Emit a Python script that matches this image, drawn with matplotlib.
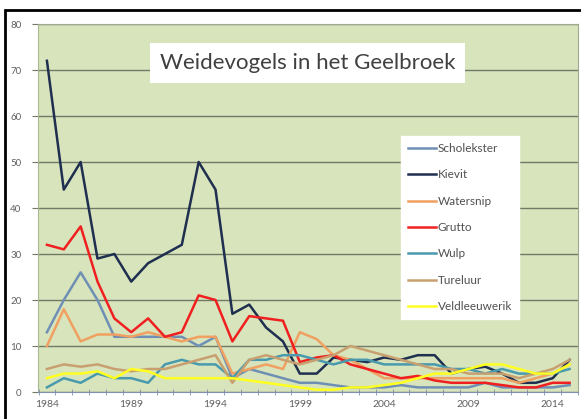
import matplotlib.pyplot as plt
import matplotlib.patches as patches
import numpy as np

plt.rcParams['font.family'] = ['Lato', 'DejaVu Sans']

years = list(range(1984, 2016))

scholekster = [13, 20, 26, 20, 12, 12, 12, 12, 12, 10, 12, 3, 5, 4, 3, 2,
               2, 1.5, 1, 1, 1, 1.5, 1, 1, 1, 1, 2, 1, 1, 1, 1, 1.5]
kievit = [72, 44, 50, 29, 30, 24, 28, 30, 32, 50, 44, 17, 19, 14, 11, 4,
          4, 7.5, 7, 6.5, 7.5, 7, 8, 8, 4, 5, 5.5, 4, 2, 2, 3, 7]
watersnip = [10, 18, 11, 12.5, 12.5, 12, 13, 12, 11, 12, 12, 4, 5, 6, 5, 13,
             11.5, 8, 7, 5, 3, 3, 3, 3, 3, 3, 3, 3, 2, 3, 4, 6]
grutto = [32, 31, 36, 24, 16, 13, 16, 12, 13, 21, 20, 11, 16.5, 16, 15.5, 6.5,
          7.5, 8, 6, 5, 4, 3, 3.5, 2.5, 2, 2, 2, 1.5, 1, 1, 2, 2]
wulp = [1, 3, 2, 4, 3, 3, 2, 6, 7, 6, 6, 3, 7, 7, 8, 8,
        7, 6, 7, 7, 6, 6, 6, 6, 5, 5, 4, 5, 4, 4, 4, 5]
tureluur = [5, 6, 5.5, 6, 5, 4.5, 5, 5, 6, 7, 8, 2, 7, 8, 7, 6,
            7, 8, 10, 9, 8, 7, 6, 5, 5, 4, 4, 4, 3, 4, 5, 7]
veldleeuwerik = [3, 4, 4, 4.5, 3, 5, 4.5, 3, 3, 3, 3, 3, 2.5, 2, 1.5, 1,
                 0.5, 0.5, 1, 1, 1.5, 2, 3, 4, 4, 5, 6, 6, 5, 4, 4, 6]

series = [
    ('Scholekster', scholekster, '#6f8fb4'),
    ('Kievit', kievit, '#1f2f4f'),
    ('Watersnip', watersnip, '#f0a060'),
    ('Grutto', grutto, '#f02020'),
    ('Wulp', wulp, '#4a9aae'),
    ('Tureluur', tureluur, '#c8a070'),
    ('Veldleeuwerik', veldleeuwerik, '#ffff20'),
]

fig = plt.figure(figsize=(5.81, 4.19), dpi=100)
fig.patch.set_facecolor('white')

# black frame around the whole chart
fig.add_artist(patches.Rectangle((5 / 581, -0.05), 1.0, (419 - 10) / 419 + 0.05,
                                 transform=fig.transFigure, fill=False,
                                 edgecolor='black', linewidth=2))

ax = fig.add_axes([38 / 581, 27 / 419, 540 / 581, 368 / 419])
ax.set_facecolor('#d8e4bc')

for name, values, color in series:
    ax.plot(years, values, color=color, linewidth=1.8, label=name)

ax.set_xlim(1983.47, 2015.4)
ax.set_ylim(0, 80)
ax.set_yticks(np.arange(0, 81, 10))
ax.set_xticks(range(1984, 2016, 5))
ax.set_xticks(np.arange(1983.5, 2015.6, 1), minor=True)
ax.grid(axis='y', color='#707a66', linewidth=1.0)
ax.set_axisbelow(True)

ax.tick_params(axis='y', length=4, color='#707a66', labelsize=7,
               labelcolor='#606060', pad=8)
ax.tick_params(axis='x', which='major', length=0, labelsize=7.5,
               labelcolor='#606060', pad=6)
ax.tick_params(axis='x', which='minor', length=4, direction='inout',
               color='#8090b0')

for side in ['top', 'right']:
    ax.spines[side].set_color('#a0a890')
ax.spines['left'].set_color('#a8b890')
ax.spines['bottom'].set_color('#8090b0')

ax.text(0.529, 0.85, 'Weidevogels in het Geelbroek', transform=fig.transFigure,
        fontsize=16, color='#404040', ha='center', va='center',
        bbox=dict(facecolor='white', edgecolor='none', pad=7))

leg = ax.legend(loc='upper left', bbox_to_anchor=(0.662, 0.712), frameon=True,
                fancybox=False, fontsize=8.5, handlelength=2.3, handletextpad=0.2,
                labelspacing=1.3, borderpad=0.6)
leg.get_frame().set_facecolor('white')
leg.get_frame().set_edgecolor('white')
leg.get_frame().set_alpha(1.0)
for text in leg.get_texts():
    text.set_color('#505050')

fig.savefig('out.png', dpi=100)
